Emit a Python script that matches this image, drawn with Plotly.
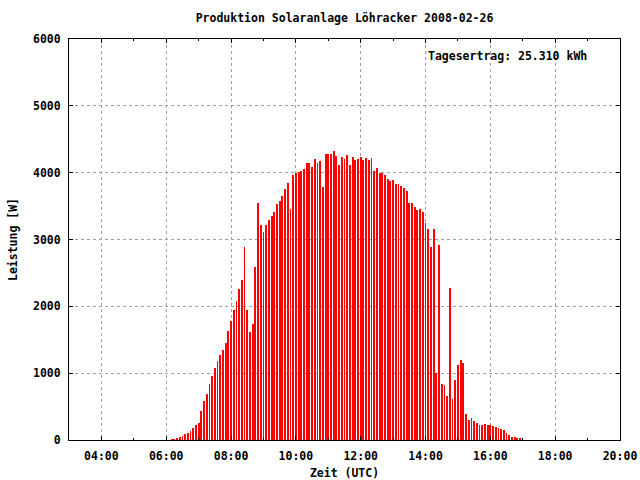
import plotly.graph_objects as go
import pandas as pd

title_text = "Produktion Solaranlage Löhracker 2008-02-26"
x_title = "Zeit (UTC)"
y_title = "Leistung [W]"
label_text = "Tagesertrag: 25.310 kWh"

day = "2008-02-26"
start_time = "06:10"
step_minutes = 5

power_w = [
    15, 15, 30, 45, 65, 90, 105, 135, 180, 225,
    255, 435, 585, 690, 840, 960, 1080, 1180, 1270, 1350,
    1450, 1630, 1780, 1945, 2080, 2260, 2395, 2890, 1945, 1615,
    1735, 2590, 3545, 3215, 3110, 3215, 3290, 3350, 3410, 3530,
    3575, 3650, 3755, 3845, 3455, 3965, 3990, 4010, 4025, 4055,
    4145, 4145, 4085, 4205, 4145, 4175, 3785, 4280, 4280, 4280,
    4325, 4250, 4115, 4235, 4205, 4265, 4115, 4235, 4190, 4205,
    4235, 4190, 4220, 4190, 4220, 4025, 4070, 3995, 3995, 3965,
    3905, 3875, 3890, 3830, 3830, 3800, 3770, 3725, 3545, 3545,
    3485, 3440, 3455, 3410, 3245, 3155, 2890, 3155, 1000, 2920,
    840, 825, 660, 2275, 615, 900, 1120, 1195, 1150, 390,
    300, 330, 285, 255, 225, 225, 240, 225, 225, 210,
    195, 180, 165, 150, 105, 75, 45, 45, 30, 30,
]

x_tick_hours = ["04:00", "06:00", "08:00", "10:00", "12:00", "14:00", "16:00", "18:00", "20:00"]
y_tick_values = [0, 1000, 2000, 3000, 4000, 5000, 6000]

times = pd.date_range(f"{day} {start_time}", periods=len(power_w), freq=f"{step_minutes}min")

FONT = "DejaVu Sans Mono"
fsize = 11.5
font_main = dict(family=FONT, size=fsize, color="black", weight="bold")

fig = go.Figure()
fig.add_trace(go.Bar(
    x=times, y=power_w,
    width=1.6 * 60 * 1000,
    marker=dict(color="#ff0000", line=dict(width=0)),
    showlegend=False,
))

fig.update_layout(
    width=640, height=480,
    paper_bgcolor="white", plot_bgcolor="white",
    margin=dict(l=69, r=20, t=39, b=40, autoexpand=False),
    font=font_main,
    title=dict(text=title_text, x=0.5, xref="paper", y=1 - 18 / 480, yanchor="middle",
               font=font_main, automargin=False),
    bargap=0,
)

fig.update_xaxes(
    type="date",
    range=[f"{day} 03:00", f"{day} 20:00"],
    tickmode="array",
    tickvals=[f"{day} {h}" for h in x_tick_hours],
    ticktext=x_tick_hours,
    ticks="inside", ticklen=4, tickcolor="black",
    ticklabelstandoff=5,
    minor=dict(ticks="inside", ticklen=2, tickcolor="black", dtick=3600000,
               tick0=f"{day} 03:00", showgrid=False),
    showline=True, linecolor="black", linewidth=1, mirror="ticks",
    showgrid=True, gridcolor="#a0a0a0", griddash="3px,3px", gridwidth=1,
    zeroline=False, automargin=False,
    tickfont=font_main,
    title=dict(text=x_title, standoff=7, font=font_main),
)
fig.update_yaxes(
    range=[0, 6000],
    tickmode="array", tickvals=y_tick_values,
    ticks="inside", ticklen=4, tickcolor="black",
    ticklabelstandoff=5,
    showline=True, linecolor="black", linewidth=1, mirror="ticks",
    showgrid=True, gridcolor="#a0a0a0", griddash="3px,3px", gridwidth=1,
    zeroline=False, automargin=False,
    tickfont=font_main,
    title=dict(text=y_title, standoff=12, font=font_main),
)

fig.add_annotation(
    x=f"{day} 14:00", y=5745, xref="x", yref="y",
    text=label_text, showarrow=False, xanchor="left", yanchor="middle",
    font=font_main,
)

fig.write_html("out.html", config={"displayModeBar": False},
               post_script="document.body.style.margin='0';document.body.style.overflow='hidden';")
